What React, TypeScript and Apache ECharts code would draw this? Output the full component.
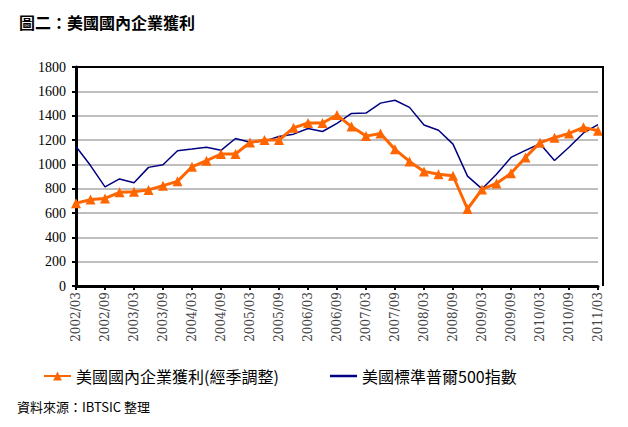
import React, { useEffect, useRef } from "react";
import * as echarts from "echarts";

const quarters = [
  "2002/03", "2002/06", "2002/09", "2002/12",
  "2003/03", "2003/06", "2003/09", "2003/12",
  "2004/03", "2004/06", "2004/09", "2004/12",
  "2005/03", "2005/06", "2005/09", "2005/12",
  "2006/03", "2006/06", "2006/09", "2006/12",
  "2007/03", "2007/06", "2007/09", "2007/12",
  "2008/03", "2008/06", "2008/09", "2008/12",
  "2009/03", "2009/06", "2009/09", "2009/12",
  "2010/03", "2010/06", "2010/09", "2010/12",
  "2011/03",
];

const profits = [
  680, 710, 720, 770,
  775, 790, 825, 860,
  980, 1030, 1085, 1085,
  1180, 1200, 1200, 1300,
  1340, 1340, 1405, 1310,
  1232, 1254, 1123, 1024,
  942, 918, 906, 633,
  794, 843, 926, 1057,
  1178, 1219, 1254, 1304,
  1276,
];

const sp500 = [
  1147, 990, 815, 880,
  848, 975, 996, 1112,
  1126, 1141, 1115, 1212,
  1181, 1191, 1229, 1248,
  1295, 1270, 1336, 1418,
  1421, 1503, 1527, 1468,
  1323, 1280, 1166, 903,
  798, 919, 1057, 1115,
  1169, 1031, 1141, 1258,
  1326,
];

const seriesNames = ["美國國內企業獲利(經季調整)", "美國標準普爾500指數"];
const titleText = "圖二：美國國內企業獲利";
const sourceText = "資料來源：IBTSIC 整理";

const CJK = "Noto Sans CJK TC";
const SERIF = "Times New Roman, Liberation Serif, serif";

export default function App() {
  const ref = useRef<HTMLDivElement>(null);

  useEffect(() => {
    document.body.style.margin = "0";
    const chart = echarts.init(ref.current!, null, { renderer: "svg" });
    chart.setOption({
      animation: false,
      backgroundColor: "#ffffff",
      title: [
        {
          text: titleText,
          left: 14,
          top: 9,
          textStyle: { fontFamily: CJK, fontSize: 16, fontWeight: "bold", color: "#000" },
        },
        {
          text: sourceText,
          left: 12,
          top: 395,
          textStyle: { fontFamily: CJK, fontSize: 13, fontWeight: "normal", color: "#000" },
        },
      ],
      legend: [
        {
          data: [seriesNames[0]],
          left: 38,
          top: 363,
          itemWidth: 27,
          itemHeight: 11,
          textStyle: { fontFamily: CJK, fontSize: 16, color: "#000" },
        },
        {
          data: [{ name: seriesNames[1], icon: "rect" }],
          left: 325,
          top: 363,
          itemWidth: 27,
          itemHeight: 2.5,
          textStyle: { fontFamily: CJK, fontSize: 16, color: "#000" },
        },
      ],
      grid: { left: 76, right: 30, top: 67, bottom: 141, containLabel: false },
      xAxis: {
        type: "category",
        data: quarters,
        boundaryGap: false,
        axisLine: { lineStyle: { color: "#000", width: 3 } },
        axisTick: { interval: 1, length: 4, lineStyle: { color: "#000", width: 2 } },
        axisLabel: {
          interval: 1,
          rotate: 90,
          margin: 6,
          fontFamily: "DejaVu Serif",
          fontSize: 12,
          color: "#444",
        },
        splitLine: { show: false },
      },
      yAxis: {
        type: "value",
        min: 0,
        max: 1800,
        interval: 200,
        axisLine: { show: true, lineStyle: { color: "#000", width: 3 } },
        axisTick: { show: true, length: 4, lineStyle: { color: "#000", width: 2 } },
        axisLabel: {
          margin: 10,
          fontFamily: SERIF,
          fontSize: 14,
          color: "#000",
          formatter: (v: number) => String(v),
        },
        splitLine: { show: true, lineStyle: { color: "#BEBEBE", width: 2 } },
      },
      graphic: [
        {
          type: "polyline",
          shape: { points: [[76, 67], [603, 67], [603, 286]] },
          style: { stroke: "#000", lineWidth: 2, fill: null },
          z: 10,
        },
      ],
      series: [
        {
          name: seriesNames[0],
          type: "line",
          data: profits,
          symbol: "triangle",
          symbolSize: 10,
          showAllSymbol: true,
          lineStyle: { color: "#FF6600", width: 3 },
          itemStyle: { color: "#FF6600" },
          z: 3,
        },
        {
          name: seriesNames[1],
          type: "line",
          data: sp500,
          symbol: "none",
          lineStyle: { color: "#000080", width: 1.5 },
          itemStyle: { color: "#000080" },
          z: 2,
        },
      ],
    });
    return () => chart.dispose();
  }, []);

  return <div ref={ref} style={{ width: 628, height: 427 }} />;
}
